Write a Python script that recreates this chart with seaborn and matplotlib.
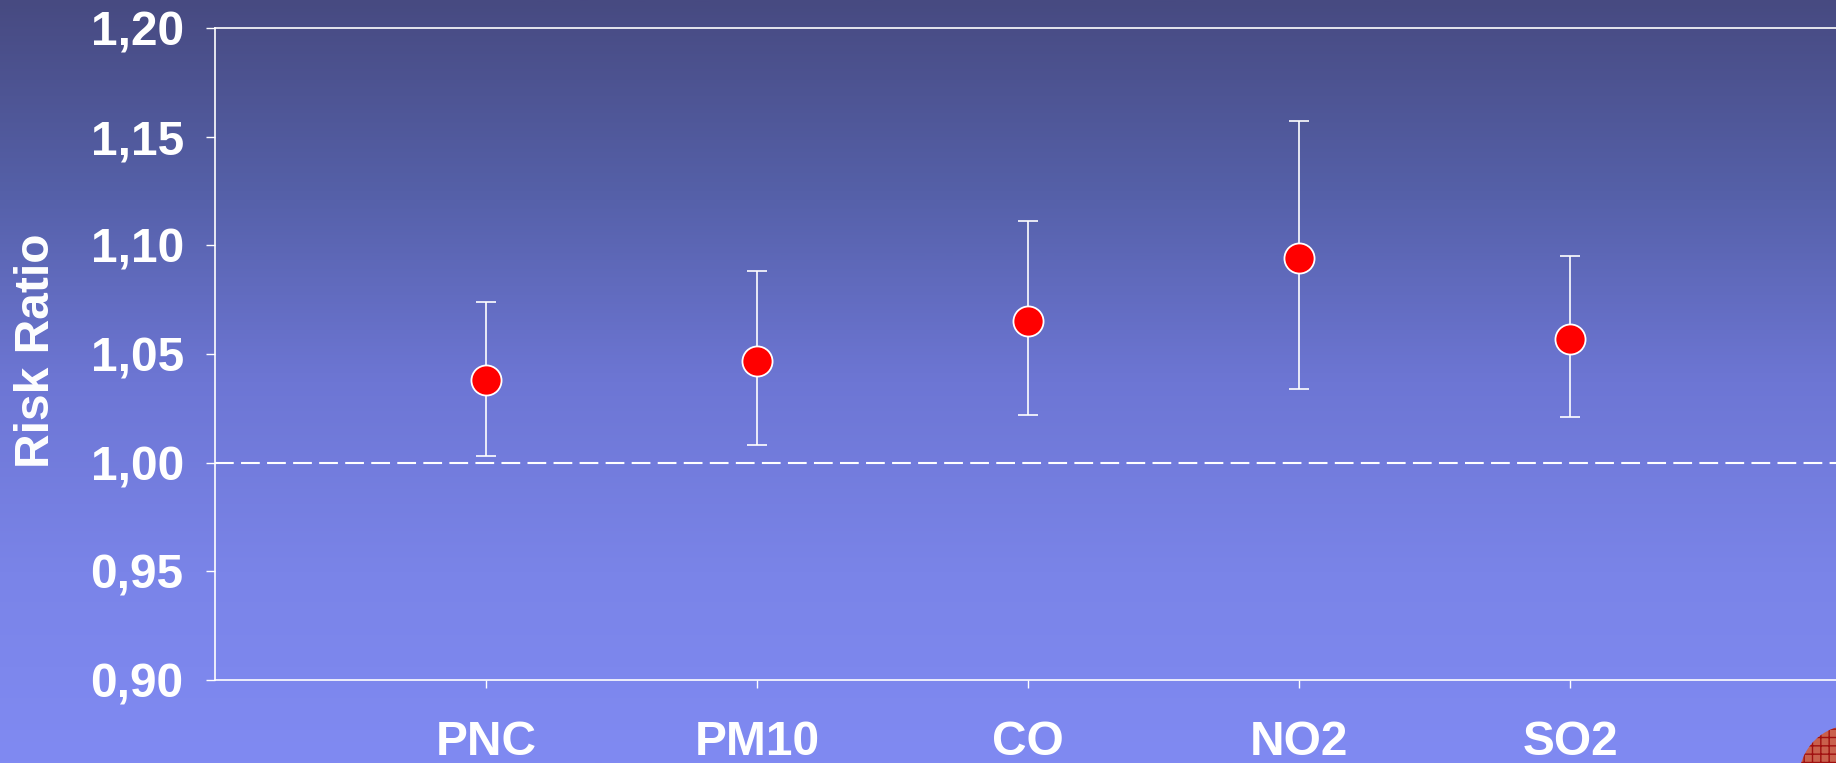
import numpy as np
import matplotlib
matplotlib.use("Agg")
import matplotlib.pyplot as plt
import matplotlib.ticker as mticker
from matplotlib.colors import LinearSegmentedColormap
from matplotlib.patches import Circle
import seaborn as sns

# Risk ratios with 95% confidence limits per pollutant
pollutants = ["PNC", "PM10", "CO", "NO2", "SO2"]
risk_ratio = [1.038, 1.047, 1.065, 1.094, 1.057]
ci_low = [1.003, 1.008, 1.022, 1.034, 1.021]
ci_high = [1.074, 1.088, 1.111, 1.157, 1.095]
y_ticks = [0.90, 0.95, 1.00, 1.05, 1.10, 1.15, 1.20]

sns.set_theme(style="white")
plt.rcParams["font.family"] = ["Liberation Sans", "DejaVu Sans"]
plt.rcParams["font.weight"] = "bold"

W, H = 1836, 763
fig = plt.figure(figsize=(W / 100, H / 100), dpi=100)

# slide-style vertical gradient background
bg = fig.add_axes([0, 0, 1, 1], zorder=-10)
stops = [(0.0, "#474a81"), (0.25, "#5560a8"), (0.50, "#6d76d4"),
         (0.75, "#7a84e8"), (1.0, "#808af2")]
cmap = LinearSegmentedColormap.from_list("slide", stops)
grad = np.linspace(0, 1, 512).reshape(-1, 1)
bg.imshow(grad, aspect="auto", cmap=cmap, extent=[0, 1, 0, 1], origin="upper")
bg.set_axis_off()

# decorative emblem peeking in at the lower right corner (display pixels)
emb = Circle((1852, -15), 53, transform=None, facecolor="#c9604c",
             edgecolor="#a01010", hatch="++", lw=0, zorder=-5)
fig.patches.append(emb)

# plot area: left 215px, bottom 680px, top 28px, runs past the right edge
left, right = 215 / W, 1841 / W
bottom, top = (H - 680) / H, (H - 28) / H
ax = fig.add_axes([left, bottom, right - left, top - bottom])
ax.set_facecolor("none")

x = np.arange(len(pollutants))
low_err = np.array(risk_ratio) - np.array(ci_low)
high_err = np.array(ci_high) - np.array(risk_ratio)
ax.errorbar(x, risk_ratio, yerr=[low_err, high_err], fmt="none",
            ecolor="white", elinewidth=1.2, capsize=7, capthick=1.2, zorder=2)
sns.scatterplot(x=pollutants, y=risk_ratio, ax=ax, s=470, color="#ff0000",
                edgecolor="white", linewidth=1.3, zorder=3)

ax.axhline(1.0, color="white", lw=1.5, dashes=(9, 3.5), zorder=1)

ax.set_xlim(-1, 5)
ax.set_ylim(0.90, 1.20)
ax.set_yticks(y_ticks)
ax.yaxis.set_major_formatter(mticker.FuncFormatter(lambda v, p: f"{v:.2f}".replace(".", ",")))
ax.set_xticks(x)
ax.set_xticklabels(pollutants)

for side in ["left", "bottom", "top"]:
    ax.spines[side].set_visible(True)
    ax.spines[side].set_color("white")
    ax.spines[side].set_linewidth(1.2)
ax.spines["right"].set_visible(False)

ax.tick_params(axis="y", colors="white", labelsize=34.5, length=6.5, width=1,
               pad=16, direction="out", left=True)
ax.tick_params(axis="x", colors="white", labelsize=34.5, length=6, width=1,
               pad=23, direction="out", bottom=True)
for lab in ax.get_xticklabels() + ax.get_yticklabels():
    lab.set_fontweight("bold")
ax.set_xlabel("")
ax.set_ylabel("")

fig.text(37 / W, 1 - 351 / H, "Risk Ratio", rotation=90, ha="center",
         va="center", color="white", fontsize=34.5, fontweight="bold")

fig.savefig("out.png", dpi=100)
